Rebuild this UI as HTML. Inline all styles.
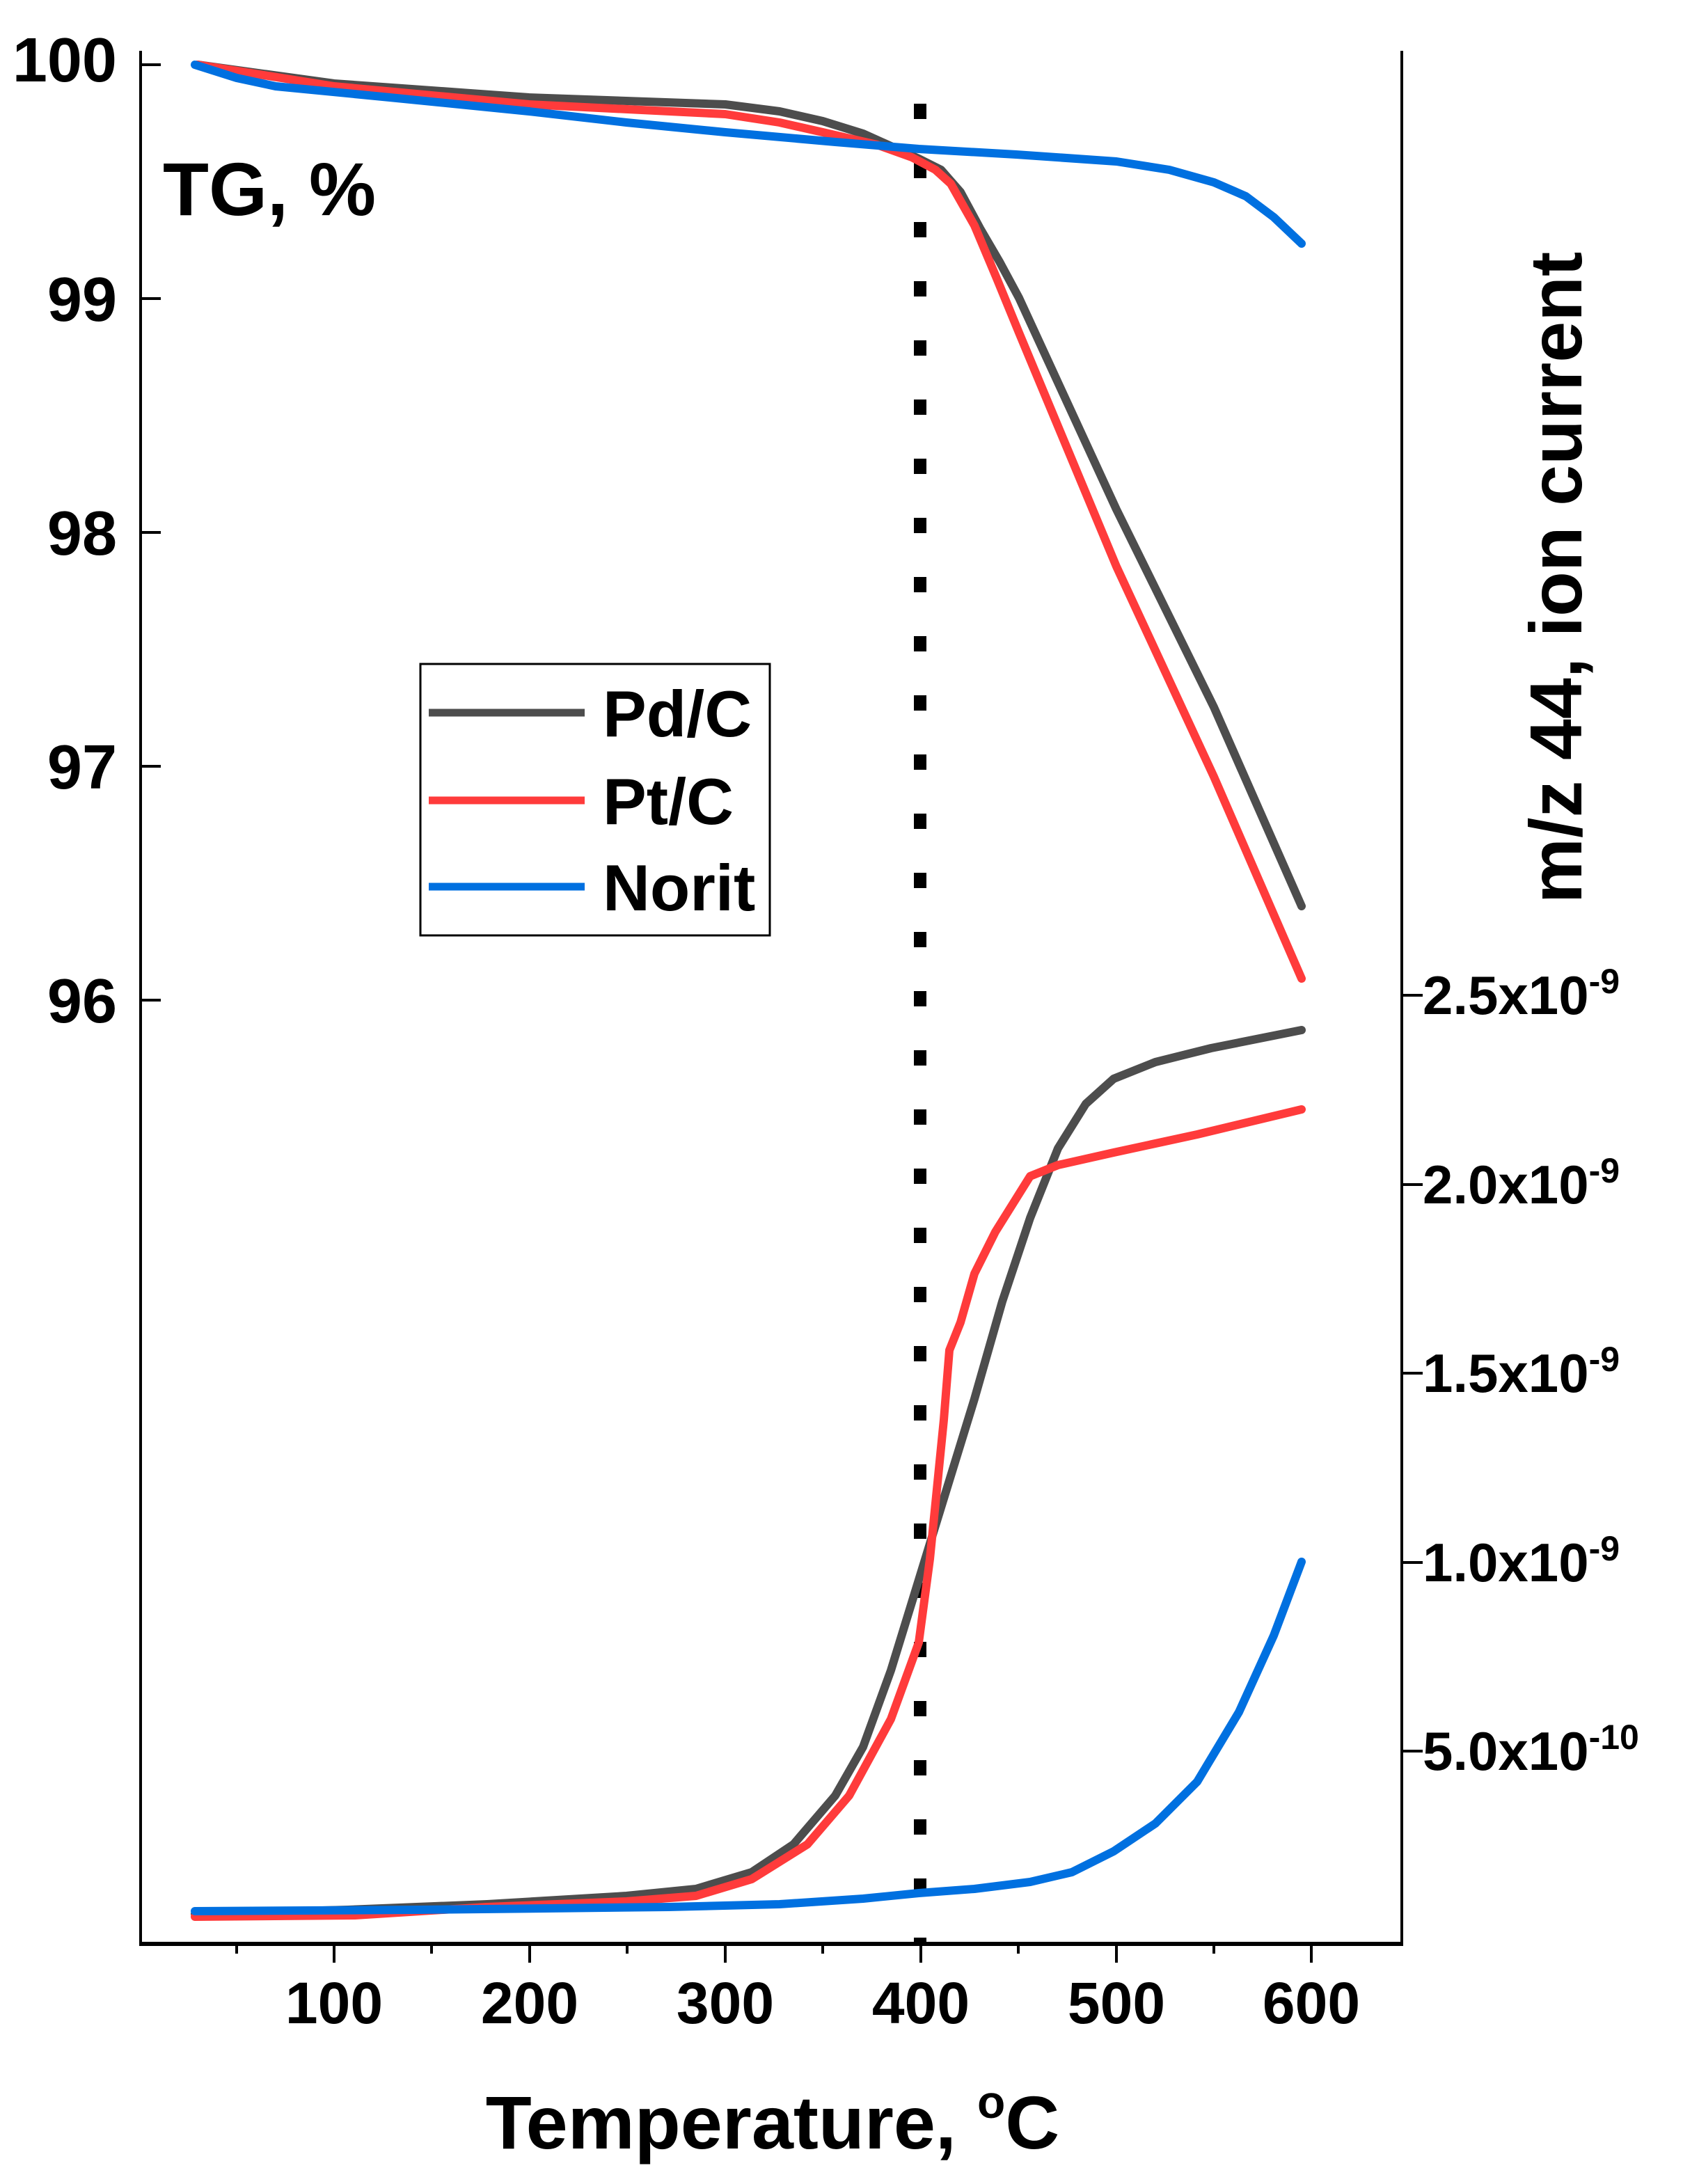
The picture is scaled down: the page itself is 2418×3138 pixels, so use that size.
<!DOCTYPE html>
<html><head><meta charset="utf-8"><style>
html,body{margin:0;padding:0;background:#fff;}
svg{display:block;}
text{font-family:"Liberation Sans",Arial,sans-serif;font-weight:bold;fill:#000;}
</style></head><body>
<svg width="2418" height="3138" viewBox="0 0 2418 3138" xmlns="http://www.w3.org/2000/svg">
<line x1="202" y1="73" x2="202" y2="2793" stroke="#000" stroke-width="4"/>
<line x1="2014" y1="73" x2="2014" y2="2793" stroke="#000" stroke-width="4"/>
<line x1="200" y1="2793" x2="2016" y2="2793" stroke="#000" stroke-width="6"/>
<g stroke="#000" stroke-width="4">
<line x1="202" y1="93" x2="231" y2="93"/>
<line x1="202" y1="429" x2="231" y2="429"/>
<line x1="202" y1="765" x2="231" y2="765"/>
<line x1="202" y1="1101" x2="231" y2="1101"/>
<line x1="202" y1="1437" x2="231" y2="1437"/>
<line x1="2014" y1="1430" x2="2044" y2="1430"/>
<line x1="2014" y1="1702" x2="2044" y2="1702"/>
<line x1="2014" y1="1973" x2="2044" y2="1973"/>
<line x1="2014" y1="2245" x2="2044" y2="2245"/>
<line x1="2014" y1="2516" x2="2044" y2="2516"/>
<line x1="340" y1="2793" x2="340" y2="2807"/>
<line x1="480" y1="2793" x2="480" y2="2820"/>
<line x1="620" y1="2793" x2="620" y2="2807"/>
<line x1="761" y1="2793" x2="761" y2="2820"/>
<line x1="901" y1="2793" x2="901" y2="2807"/>
<line x1="1042" y1="2793" x2="1042" y2="2820"/>
<line x1="1182" y1="2793" x2="1182" y2="2807"/>
<line x1="1323" y1="2793" x2="1323" y2="2820"/>
<line x1="1463" y1="2793" x2="1463" y2="2807"/>
<line x1="1604" y1="2793" x2="1604" y2="2820"/>
<line x1="1744" y1="2793" x2="1744" y2="2807"/>
<line x1="1884" y1="2793" x2="1884" y2="2820"/>
</g>
<g font-size="90" text-anchor="end">
<text x="168" y="117">100</text>
<text x="168" y="461">99</text>
<text x="168" y="797">98</text>
<text x="168" y="1133">97</text>
<text x="168" y="1469">96</text>
</g>
<text x="234" y="309" font-size="108">TG, %</text>
<g font-size="78">
<text x="2044" y="1457">2.5x10<tspan font-size="50" dy="-30">-9</tspan></text>
<text x="2044" y="1729">2.0x10<tspan font-size="50" dy="-30">-9</tspan></text>
<text x="2044" y="2000">1.5x10<tspan font-size="50" dy="-30">-9</tspan></text>
<text x="2044" y="2272">1.0x10<tspan font-size="50" dy="-30">-9</tspan></text>
<text x="2044" y="2543">5.0x10<tspan font-size="50" dy="-30">-10</tspan></text>
</g>
<text transform="translate(2272,830) rotate(-90)" font-size="106" text-anchor="middle">m/z 44, ion current</text>
<g font-size="84" text-anchor="middle">
<text x="480" y="2907">100</text>
<text x="761" y="2907">200</text>
<text x="1042" y="2907">300</text>
<text x="1323" y="2907">400</text>
<text x="1604" y="2907">500</text>
<text x="1884" y="2907">600</text>
</g>
<text x="1110" y="3087" font-size="108" text-anchor="middle">Temperature, <tspan font-size="66" dy="-44">o</tspan><tspan dy="44">C</tspan></text>
<line x1="1322" y1="149" x2="1322" y2="2793" stroke="#000" stroke-width="18" stroke-dasharray="22 63"/>
<g transform="scale(2)" fill="none" stroke-width="6" stroke-linejoin="round" stroke-linecap="round">
<polyline stroke="#4d4d4d" points="142,46.5 240,60 380,70 521,75 560,80 591,87 620,96 640,105 660,114 676,122 690,138 704,164 718,188 732,214 802,366 872,508 935,651"/>
<polyline stroke="#ff3b3b" points="142,46.5 240,62 380,75 521,82 560,88 591,95 630,104 655,113 672,122 683,132 700,162 716,200 732,239 802,407 872,558 935,703"/>
<polyline stroke="#0070e0" points="140,46.5 170,56 198,62 280,70 380,80 450,88 521,95 600,102 660,107 730,111 802,116 840,122 872,131 895,141 915,156 935,175"/>
<polyline stroke="#4d4d4d" points="140,1375 250,1372 350,1368 450,1362 500,1357 540,1345 570,1325 600,1290 620,1255 640,1200 660,1135 680,1070 700,1005 720,935 740,875 760,825 780,793 800,775 830,763 870,753 935,740"/>
<polyline stroke="#ff3b3b" points="140,1377 255,1376 350,1370 450,1366 500,1362 540,1350 580,1325 610,1290 640,1235 660,1180 668,1120 672,1080 678,1020 682,970 690,950 700,915 715,885 740,845 760,837 800,828 860,815 935,797"/>
<polyline stroke="#0070e0" points="140,1373 300,1372 480,1370 560,1368 620,1364 660,1360 700,1357 740,1352 770,1345 800,1330 830,1310 860,1280 890,1230 915,1175 935,1122"/>
</g>
<rect x="604" y="954" width="502" height="390" fill="#fff" stroke="#000" stroke-width="3"/>
<g stroke-width="11">
<line x1="616" y1="1024" x2="840" y2="1024" stroke="#4d4d4d"/>
<line x1="616" y1="1150" x2="840" y2="1150" stroke="#ff3b3b"/>
<line x1="616" y1="1274" x2="840" y2="1274" stroke="#0070e0"/>
</g>
<g font-size="94">
<text x="866" y="1058">Pd/C</text>
<text x="866" y="1184">Pt/C</text>
<text x="866" y="1308">Norit</text>
</g>
</svg>
</body></html>
